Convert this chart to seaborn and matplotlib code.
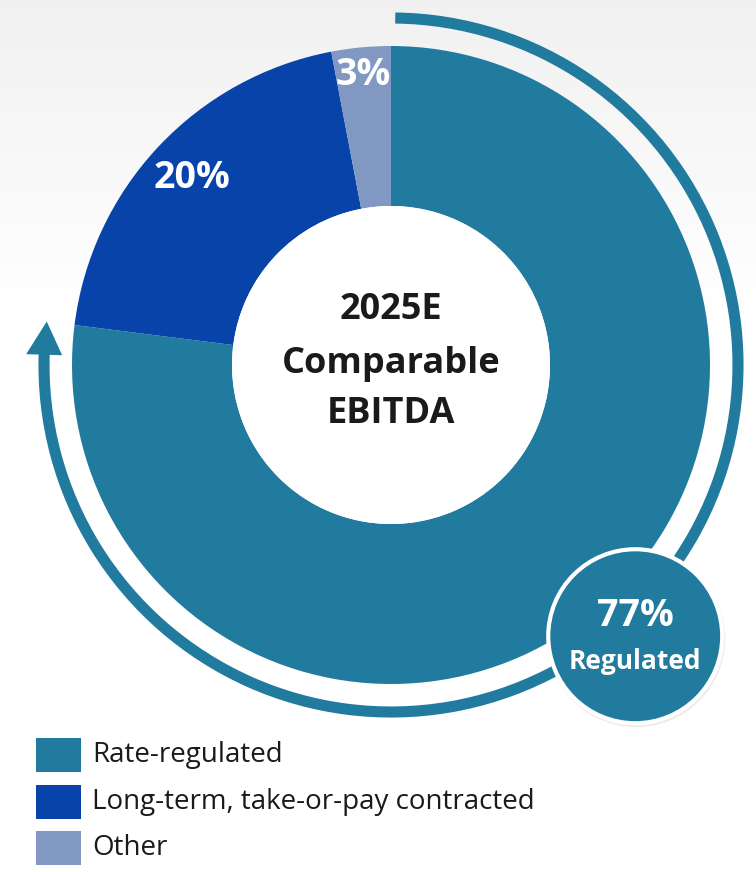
import numpy as np
import matplotlib
matplotlib.use("Agg")
import matplotlib.pyplot as plt
import seaborn as sns
from matplotlib.patches import Circle, Arc, Polygon, Rectangle

# ---- data ----
categories = ["Rate-regulated", "Long-term, take-or-pay contracted", "Other"]
shares = [77, 20, 3]
pct_labels = ["77%", "20%", "3%"]
colors = ["#217B9E", "#0843AA", "#8098C2"]
center_title = ["2025E", "Comparable", "EBITDA"]
badge_title = "Regulated"

sns.set_theme(style="white")
plt.rcParams['font.family'] = ['Open Sans', 'DejaVu Sans']

W, H = 756, 872
fig = plt.figure(figsize=(W / 100, H / 100), dpi=100)
ax = fig.add_axes([0, 0, 1, 1])


def Y(y):
    return H - y


# background soft gradient at top
n = 300
t = np.linspace(0, 1, n)[:, None]
xs = np.linspace(0, 1, 400)[None, :]
val = 0.945 + 0.055 * np.clip(t * 1.1, 0, 1)
rgb = np.dstack([val * np.ones_like(xs)] * 3)
ax.imshow(rgb, extent=(0, W, Y(340), H), origin='upper', aspect='auto', zorder=0)

cx, cy = 391, Y(365)
R = 319
R_in = 159
wedges, _ = ax.pie(shares, colors=colors, startangle=90, counterclock=False,
                   radius=R, center=(cx, cy),
                   wedgeprops=dict(width=R - R_in, edgecolor='none', zorder=2))
ax.add_patch(Circle((cx, cy), R_in, facecolor='white', edgecolor='none', zorder=3))

# wedge labels
label_r = [None, 273, 291]
for w, lab, r in zip(wedges, pct_labels, label_r):
    if r is None:
        continue
    mid = np.deg2rad((w.theta1 + w.theta2) / 2)
    ax.text(cx + r * np.cos(mid), cy + r * np.sin(mid), lab, color='white',
            fontsize=27, fontweight='bold', ha='center', va='center', zorder=5)

# center title
for yy, line in zip([310, 364, 414], center_title):
    ax.text(cx, Y(yy), line, fontsize=26, fontweight='bold', color='#1a1a1a',
            ha='center', va='center', zorder=5)

# arc arrow around regulated share
reg_end = wedges[0].theta1  # angle where regulated wedge ends (ccw start)
ra = 347
start_top = 90 - 0.7
base_ang = reg_end + 5.5
ax.add_patch(Arc((cx, cy), 2 * ra, 2 * ra, theta1=base_ang - 0.3, theta2=start_top + 360,
                 lw=8, color=colors[0], capstyle='butt', zorder=1))
tip = (cx + ra * np.cos(np.deg2rad(reg_end)), cy + ra * np.sin(np.deg2rad(reg_end)))
b = np.deg2rad(base_ang)
hw = 18
p1 = (cx + (ra - hw) * np.cos(b), cy + (ra - hw) * np.sin(b))
p2 = (cx + (ra + hw) * np.cos(b), cy + (ra + hw) * np.sin(b))
ax.add_patch(Polygon([tip, p1, p2], closed=True, facecolor=colors[0],
                     edgecolor='none', zorder=1))

# badge
bang = np.deg2rad(-48)
bd = 365
bx, by = cx + bd * np.cos(bang), cy + bd * np.sin(bang)
ax.add_patch(Circle((bx + 1, by - 2), 89, facecolor='#999999', alpha=0.18,
                    edgecolor='none', zorder=6))
ax.add_patch(Circle((bx, by), 87, facecolor=colors[0], edgecolor='white', lw=3, zorder=7))
ax.text(bx, by + 20, pct_labels[0], color='white', fontsize=27, fontweight='bold',
        ha='center', va='center', zorder=8)
ax.text(bx, by - 25, badge_title, color='white', fontsize=19, fontweight='bold',
        ha='center', va='center', zorder=8)

# legend
for yy, cat, col in zip([755, 802, 848], categories, colors):
    ax.add_patch(Rectangle((36, Y(yy) - 17), 45, 34, facecolor=col, edgecolor='none', zorder=5))
    ax.text(92, Y(yy), cat, fontsize=20, color='#1a1a1a', ha='left', va='center', zorder=5)

ax.set_xlim(0, W)
ax.set_ylim(0, H)
ax.set_aspect('auto')
ax.axis('off')
fig.savefig("out.png", dpi=100)
